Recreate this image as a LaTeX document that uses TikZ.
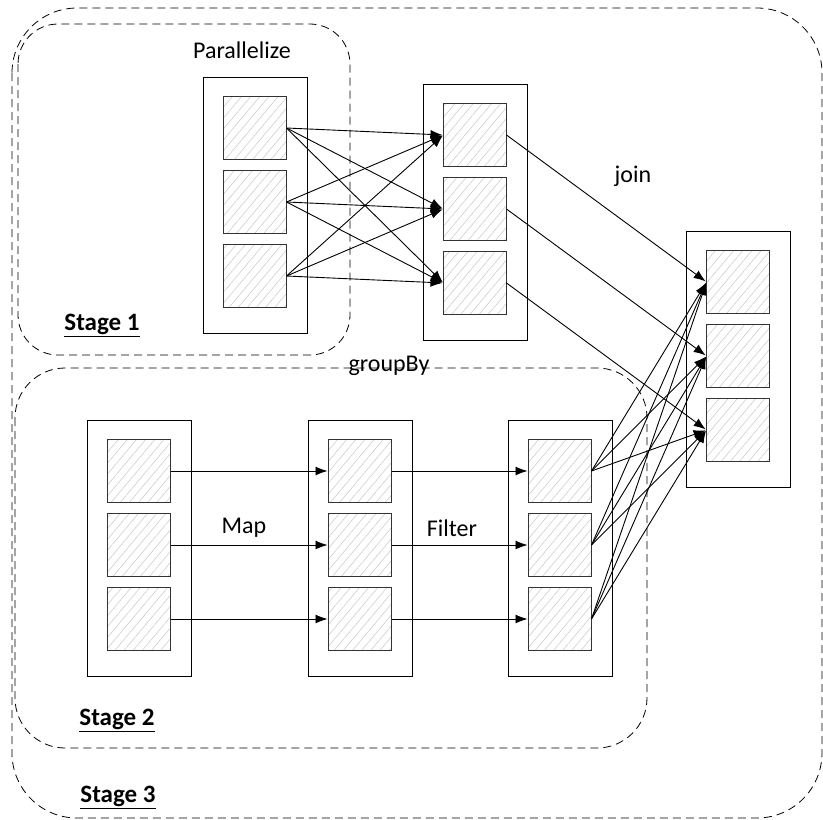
\documentclass[tikz,border=0pt]{standalone}
\usepackage{fontspec}
\setmainfont{Carlito}
\usepackage{tikz}
\usetikzlibrary{arrows.meta}
\usetikzlibrary{patterns.meta}
\usetikzlibrary{positioning}

\tikzset{
  part/.style={draw=black!80, line width=0.9pt, inner sep=0pt, outer sep=0pt,
    minimum width=63pt, minimum height=63pt,
    pattern={Lines[angle=50,distance=7pt,line width=0.5pt]}, pattern color=black!22},
  rdd/.style={draw, line width=0.9pt, inner sep=0pt, outer sep=0pt,
    minimum width=104pt, minimum height=256pt},
  stage/.style={draw, line width=0.8pt, dash pattern=on 8pt off 5pt},
  arr/.style={-{Latex[length=12pt,width=9pt]}, line width=0.9pt, shorten >=1pt},
  lbl/.style={font=\fontsize{24}{28}\selectfont, inner sep=0pt},
  stagelbl/.style={font=\fontsize{25}{30}\selectfont\bfseries, inner sep=0pt}
}

\begin{document}
\begin{tikzpicture}[x=1pt, y=-1pt]
  \useasboundingbox (0,0) rectangle (823,820);

  % stages
  \draw[stage, rounded corners=65pt] (12,8) rectangle (822,818);
  \draw[stage, rounded corners=40pt] (18,24) rectangle (350,355);
  \draw[stage, rounded corners=50pt] (15,368) rectangle (647,748);

  % rdds with their partitions
  \foreach \n/\x/\y in {p/255/205, g/475/212, j/738/359, a/139/548, b/360/548, c/560/548} {
    \node[rdd] (\n) at (\x,\y) {};
    \foreach \k in {1,2,3}
      \node[part] (\n\k) at (\x,{\y+(\k-2)*74-3}) {};
  }

  % parallelize -> groupBy
  \foreach \i in {1,2,3}
    \foreach \k in {1,2,3}
      \draw[arr] (p\i.east) -- (g\k.west);

  % groupBy -> join
  \foreach \i in {1,2,3}
    \draw[arr] (g\i.east) -- (j\i.west);

  % map, filter
  \foreach \i in {1,2,3} {
    \draw[arr] (a\i.east) -- (b\i.west);
    \draw[arr] (b\i.east) -- (c\i.west);
  }

  % filter -> join
  \foreach \i in {1,2,3}
    \foreach \k in {1,2,3}
      \draw[arr] (c\i.east) -- (j\k.west);

  % labels
  \node[lbl] (parallelize) at (242,50) {Parallelize};
  \node[lbl] (join) at (633,176) {join};
  \node[lbl] (groupby) at (389,366) {groupBy};
  \node[lbl] (map) at (244,528) {Map};
  \node[lbl] (filter) at (452,528) {Filter};
  \node[stagelbl] (stage1) at (102,325) {\underline{Stage 1}};
  \node[stagelbl] (stage2) at (117,720) {\underline{Stage 2}};
  \node[stagelbl] (stage3) at (118,797) {\underline{Stage 3}};
\end{tikzpicture}
\end{document}
